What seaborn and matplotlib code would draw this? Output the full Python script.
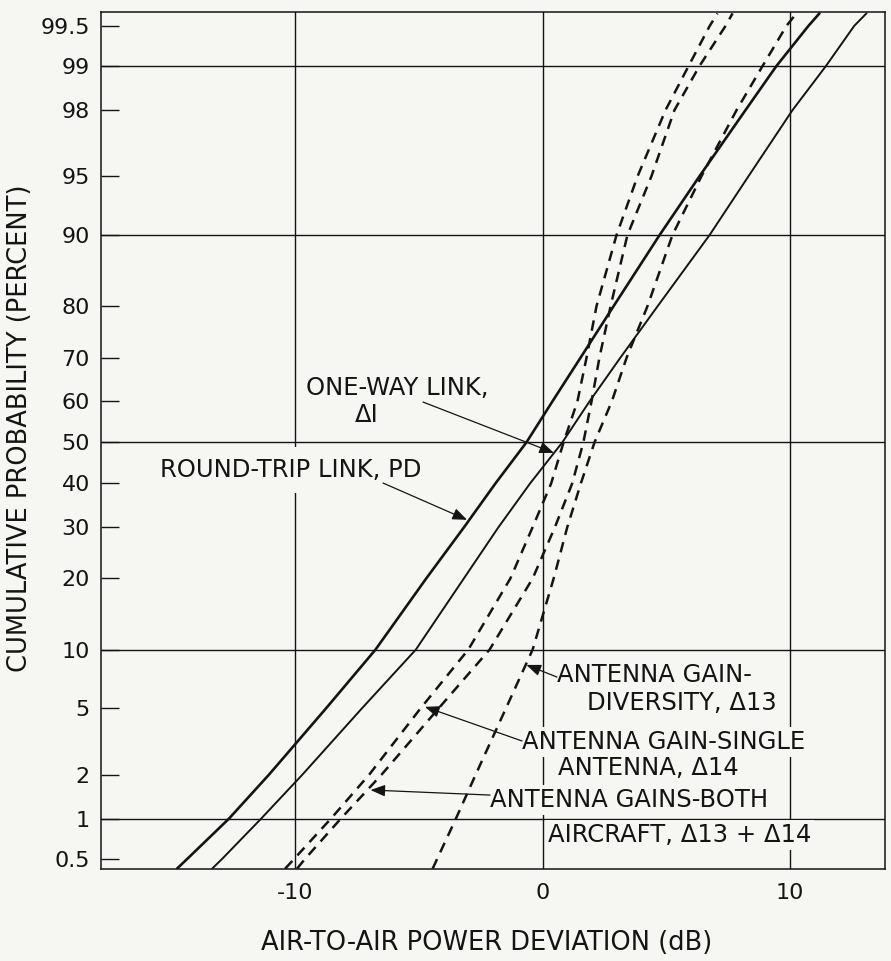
import math
import numpy as np
import matplotlib
matplotlib.use("Agg")
import matplotlib.pyplot as plt
from matplotlib.ticker import NullLocator
import seaborn as sns

# cumulative probability levels (percent) at which the curves were read
pct = [0.42, 0.5, 1, 2, 5, 10, 20, 30, 40, 50, 60, 70, 80, 90, 95, 98, 99, 99.5, 99.6]

# air-to-air power deviation (dB) for each curve at the levels above
round_trip = [-14.77, -14.36, -12.67, -11.05, -8.75, -6.75, -4.7, -3.17, -1.9, -0.65,
              0.4, 1.54, 2.87, 4.73, 6.34, 8.2, 9.45, 10.75, 11.19]
one_way = [-13.35, -12.95, -11.37, -9.7, -7.3, -5.12, -3.18, -1.78, -0.5, 0.8,
           1.9, 3.15, 4.65, 6.75, 8.32, 10.1, 11.45, 12.6, 13.09]
gain_single = [-10.4, -10.04, -8.55, -7.0, -4.93, -3.0, -1.3, -0.4, 0.35, 0.85,
               1.41, 1.78, 2.18, 2.99, 3.84, 4.97, 5.9, 6.76, 7.07]
gain_both = [-9.92, -9.6, -8.15, -6.5, -4.2, -2.14, -0.4, 0.5, 1.2, 1.65,
             1.98, 2.3, 2.75, 3.43, 4.4, 5.33, 6.34, 7.4, 7.68]
gain_diversity = [-4.44, -4.26, -3.5, -2.7, -1.48, -0.4, 0.45, 1.0, 1.55, 2.1,
                  2.8, 3.4, 4.24, 5.25, 6.42, 7.84, 8.89, 9.86, 10.26]

yticks = [0.5, 1, 2, 5, 10, 20, 30, 40, 50, 60, 70, 80, 90, 95, 98, 99, 99.5]
ytick_labels = ["0.5", "1", "2", "5", "10", "20", "30", "40", "50", "60", "70",
                "80", "90", "95", "98", "99", "99.5"]
xticks = [-10, 0, 10]
grid_x = [-10, 0, 10]
grid_y = [1, 10, 50, 90, 99]


# normal probability scale (probit) ---------------------------------------
_a = [-3.969683028665376e+01, 2.209460984245205e+02, -2.759285104469687e+02,
      1.383577518672690e+02, -3.066479806614716e+01, 2.506628277459239e+00]
_b = [-5.447609879822406e+01, 1.615858368580409e+02, -1.556989798598866e+02,
      6.680131188771972e+01, -1.328068155288572e+01]
_c = [-7.784894002430293e-03, -3.223964580411365e-01, -2.400758277161838e+00,
      -2.549671348652018e+00, 4.374664141464968e+00, 2.938163982698783e+00]
_d = [7.784695709041462e-03, 3.224671290700398e-01, 2.445134137142996e+00,
      3.754408661907416e+00]


def _tail(q):
    num = (((((_c[0] * q + _c[1]) * q + _c[2]) * q + _c[3]) * q + _c[4]) * q + _c[5])
    den = ((((_d[0] * q + _d[1]) * q + _d[2]) * q + _d[3]) * q + 1)
    return num / den


def pct_to_z(p):
    arr = np.asarray(p, dtype=float)
    shape = arr.shape
    p = np.clip(np.atleast_1d(arr) / 100.0, 1e-9, 1 - 1e-9)
    z = np.empty_like(p)
    lo = p < 0.02425
    hi = p > 1 - 0.02425
    mid = ~(lo | hi)
    z[lo] = _tail(np.sqrt(-2 * np.log(p[lo])))
    z[hi] = -_tail(np.sqrt(-2 * np.log(1 - p[hi])))
    q = p[mid] - 0.5
    r = q * q
    num = (((((_a[0] * r + _a[1]) * r + _a[2]) * r + _a[3]) * r + _a[4]) * r + _a[5]) * q
    den = (((((_b[0] * r + _b[1]) * r + _b[2]) * r + _b[3]) * r + _b[4]) * r + 1)
    z[mid] = num / den
    return z.reshape(shape)


_erf = np.vectorize(math.erf, otypes=[float])


def z_to_pct(z):
    z = np.asarray(z, dtype=float)
    return 100.0 * 0.5 * (1.0 + _erf(z / math.sqrt(2.0)))


# figure ------------------------------------------------------------------
bg = "#f6f6f3"
ink = "#141414"
sns.set_style("white")
plt.rcParams["font.family"] = ["DejaVu Sans"]

fig = plt.figure(figsize=(8.91, 9.61), dpi=100, facecolor=bg)
ax = fig.add_axes([0.1134, 0.0957, 0.8799, 0.8918])
ax.set_facecolor(bg)

dash = (0, (4.2, 3.0))
curves = [
    (round_trip, "-", 1.9),
    (one_way, "-", 1.4),
    (gain_single, dash, 1.8),
    (gain_both, dash, 1.8),
    (gain_diversity, dash, 1.8),
]
for vals, ls, lw in curves:
    sns.lineplot(x=vals, y=pct, orient="y", sort=True, estimator=None,
                 color=ink, linewidth=lw, linestyle=ls, ax=ax, zorder=3)

ax.set_yscale("function", functions=(pct_to_z, z_to_pct))
ax.set_ylim(0.417, 99.61)
ax.set_xlim(-17.84, 13.84)

# grid lines at the major divisions
for gx in grid_x:
    ax.axvline(gx, color=ink, lw=1.0, zorder=1)
for gy in grid_y:
    ax.axhline(gy, color=ink, lw=1.0, zorder=1)

ax.set_yticks(yticks)
ax.set_yticklabels(ytick_labels)
ax.yaxis.set_minor_locator(NullLocator())
ax.set_xticks(xticks)
ax.set_xticklabels(["-10", "0", "10"])
ax.tick_params(axis="y", direction="in", length=13, width=1.0, pad=8,
               labelsize=16, colors=ink, left=True, right=False)
ax.tick_params(axis="x", length=0, pad=10, labelsize=16, colors=ink)
for sp in ax.spines.values():
    sp.set_visible(True)
    sp.set_color(ink)
    sp.set_linewidth(1.1)

ax.set_xlabel("AIR-TO-AIR POWER DEVIATION (dB)", fontsize=18.5, color=ink)
ax.xaxis.set_label_coords(0.4923, -0.0715)
ax.set_ylabel("CUMULATIVE PROBABILITY (PERCENT)", fontsize=18.5, color=ink)
ax.yaxis.set_label_coords(-0.0867, 0.5146)

# curve labels
lab = dict(fontsize=17.5, color=ink, va="center", transform=ax.transAxes, zorder=2.5)
box = dict(boxstyle="square,pad=0.12", facecolor=bg, edgecolor="none")
ax.text(0.0753, 0.4656, "ROUND-TRIP LINK, PD", ha="left",
        bbox=dict(boxstyle="square,pad=0.45", facecolor=bg, edgecolor="none"), **lab)
ax.text(0.2615, 0.5613, "ONE-WAY LINK,", ha="left", **lab)
ax.text(0.3393, 0.5298, "ΔI", ha="center", **lab)
ax.text(0.5816, 0.2264, "ANTENNA GAIN-", ha="left", bbox=box, **lab)
ax.text(0.6199, 0.1937, "DIVERSITY, Δ13", ha="left", bbox=box, **lab)
ax.text(0.5370, 0.1482, "ANTENNA GAIN-SINGLE", ha="left", bbox=box, **lab)
ax.text(0.5829, 0.1179, "ANTENNA, Δ14", ha="left", bbox=box, **lab)
ax.text(0.4962, 0.0805, "ANTENNA GAINS-BOTH", ha="left", bbox=box, **lab)
ax.text(0.5702, 0.0397, "AIRCRAFT, Δ13 + Δ14", ha="left", bbox=box, **lab)

# leader arrows: tip on the curve (data), tail near the label (axes fraction)
arrow = dict(arrowstyle="-|>,head_length=0.55,head_width=0.22", color=ink,
             lw=0.9, shrinkA=0, shrinkB=0, mutation_scale=16)
leaders = [
    ((-3.05, 31.6), (0.3597, 0.4504)),
    ((0.46, 47.4), (0.4107, 0.5449)),
    ((-0.65, 8.44), (0.5816, 0.2240)),
    ((-4.75, 5.1), (0.5370, 0.1494)),
    ((-6.95, 1.58), (0.4962, 0.0863)),
]
for tip, tail in leaders:
    ax.annotate("", xy=tip, xycoords="data", xytext=tail,
                textcoords="axes fraction", arrowprops=arrow, zorder=4)

fig.savefig("out.png", dpi=100, facecolor=bg)
